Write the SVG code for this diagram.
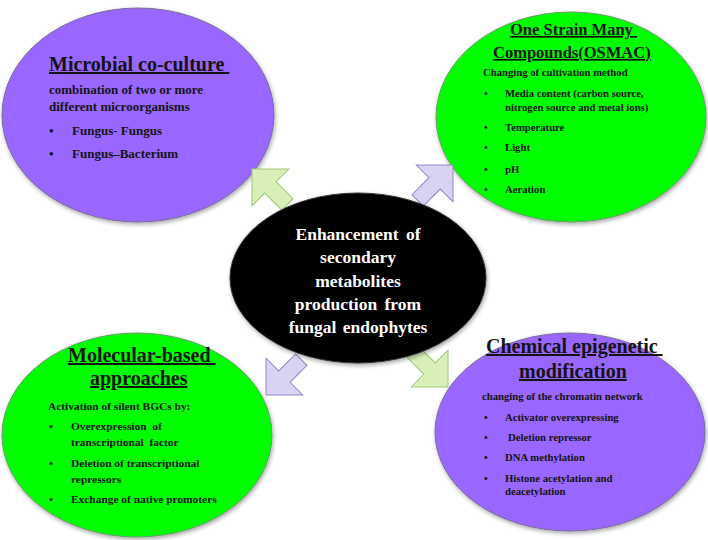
<svg xmlns="http://www.w3.org/2000/svg" width="708" height="540" viewBox="0 0 708 540">
<defs>
<style>
.t{font-family:"Liberation Serif","Times New Roman",serif;font-weight:bold;fill:#141414}
.title{font-size:20px;text-decoration:underline;white-space:pre}
.title2{font-size:16.5px;text-decoration:underline;white-space:pre}
.b{font-size:11px}
.c{font-family:"Liberation Serif","Times New Roman",serif;font-weight:bold;fill:#ffffff;font-size:17.5px;text-anchor:middle}
.purple{fill:#9966ff;stroke:#7a6a9a;stroke-width:1}
.green{fill:#00ff00;stroke:#6a9a6a;stroke-width:1}
.ag{fill:#d8f0b8;stroke:#a0c878;stroke-width:1}
.ap{fill:#dad2f2;stroke:#9488c4;stroke-width:1}
</style>
<filter id="sh" x="-10%" y="-10%" width="120%" height="120%">
<feDropShadow dx="1" dy="2" stdDeviation="2" flood-color="#000" flood-opacity="0.35"/>
</filter>
<path id="arr" d="M0,0 L26,-26 L26,-8 L50,-8 L50,8 L26,8 L26,26 Z"/>
</defs>
<rect width="708" height="540" fill="#ffffff"/>

<g id="microbial-coculture">
<ellipse class="purple" cx="138" cy="115" rx="136" ry="107" filter="url(#sh)"/>
<text class="t title" x="49" y="71">Microbial co-culture </text>
<text class="t" x="49" y="94" font-size="13">combination of two or more</text>
<text class="t" x="49" y="111" font-size="13">different microorganisms</text>
<text class="t" x="49" y="135" font-size="13">•</text>
<text class="t" x="72" y="135" font-size="13">Fungus- Fungus</text>
<text class="t" x="49" y="158" font-size="13">•</text>
<text class="t" x="72" y="158" font-size="13">Fungus–Bacterium</text>
</g>

<g id="osmac">
<ellipse class="green" cx="571" cy="117" rx="135" ry="105" filter="url(#sh)"/>
<text class="t title2" x="510" y="35">One Strain Many </text>
<text class="t title2" x="493" y="58">Compounds(OSMAC)</text>
<text class="t" x="483" y="76" font-size="10.7">Changing of cultivation method</text>
<g class="t" font-size="10.7">
<text x="484" y="97">•</text><text x="505" y="97">Media content (carbon source,</text>
<text x="505" y="111">nitrogen source and metal ions)</text>
<text x="484" y="131">•</text><text x="505" y="131">Temperature</text>
<text x="484" y="151">•</text><text x="505" y="151">Light</text>
<text x="484" y="173">•</text><text x="505" y="173">pH</text>
<text x="484" y="193">•</text><text x="505" y="193">Aeration</text>
</g>
</g>

<g id="molecular-based">
<ellipse class="green" cx="137" cy="435" rx="135" ry="102" filter="url(#sh)"/>
<text class="t title" x="68" y="362">Molecular-based </text>
<text class="t title" x="90" y="385">approaches</text>
<g class="t" font-size="11.4">
<text x="48" y="410">Activation of silent BGCs by:</text>
<text x="49" y="430">•</text><text x="71" y="430" style="white-space:pre">Overexpression  of</text>
<text x="71" y="446" style="white-space:pre">transcriptional  factor</text>
<text x="49" y="467">•</text><text x="71" y="467">Deletion of transcriptional</text>
<text x="71" y="483">repressors</text>
<text x="49" y="503">•</text><text x="71" y="503">Exchange of native promoters</text>
</g>
</g>

<g id="chemical-epigenetic">
<ellipse class="purple" cx="570" cy="432" rx="135" ry="99" filter="url(#sh)"/>
<text class="t title" x="486" y="353">Chemical epigenetic </text>
<text class="t title" x="519" y="378">modification</text>
<g class="t" font-size="10.7">
<text x="482" y="400">changing of the chromatin network</text>
<text x="484" y="421">•</text><text x="505" y="421">Activator overexpressing</text>
<text x="484" y="441">•</text><text x="508" y="441">Deletion repressor</text>
<text x="484" y="461">•</text><text x="505" y="461">DNA methylation</text>
<text x="484" y="482">•</text><text x="505" y="482">Histone acetylation and</text>
<text x="505" y="495">deacetylation</text>
</g>
</g>

<g id="connectors">
<use href="#arr" class="ag" transform="translate(252,169) rotate(45)"/>
<use href="#arr" class="ap" transform="translate(453,165) rotate(135)"/>
<use href="#arr" class="ap" transform="translate(266,395) rotate(-45)"/>
<use href="#arr" class="ag" transform="translate(448,387) rotate(-135)"/>
</g>

<g id="center">
<ellipse cx="358" cy="278" rx="128" ry="85" fill="#000000" stroke="#333" stroke-width="1" filter="url(#sh)"/>
<text class="c" x="358" y="240" word-spacing="3">Enhancement of</text>
<text class="c" x="358" y="263">secondary</text>
<text class="c" x="358" y="287">metabolites</text>
<text class="c" x="358" y="310" word-spacing="3">production from</text>
<text class="c" x="358" y="333" word-spacing="2">fungal endophytes</text>
</g>
</svg>
